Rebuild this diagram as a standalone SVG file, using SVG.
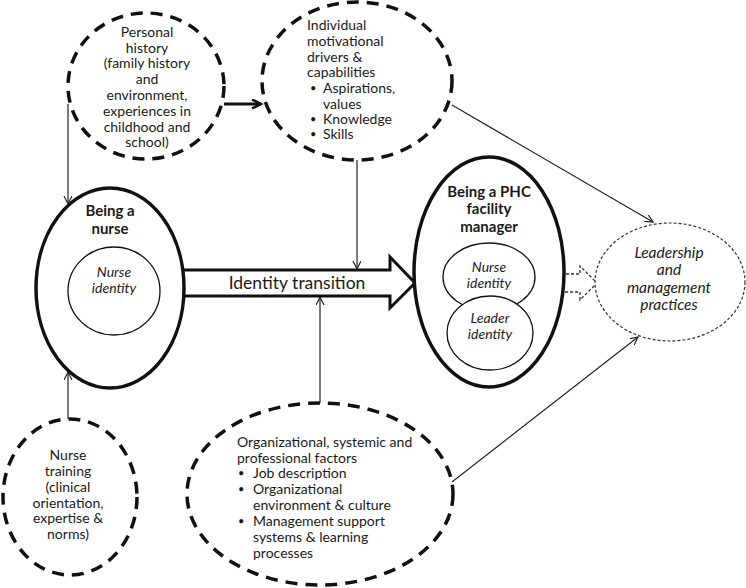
<svg xmlns="http://www.w3.org/2000/svg" width="746" height="588" viewBox="0 0 746 588">
<defs>
<style>
text{font-family:Lato,"Liberation Sans",sans-serif;fill:#1a1a1a;}
.t{font-size:14px;}
.c{text-anchor:middle;}
.b{font-weight:bold;font-size:15px;}
.i{font-style:italic;font-size:14px;}
.li{font-style:italic;font-size:15.5px;}
.big{font-size:17.5px;}
.dot{font-size:11px;}
.thickdash{fill:#fff;stroke:#111;stroke-width:3.5;stroke-dasharray:12 8;}
.solid{fill:#fff;stroke:#111;stroke-width:3.5;}
.inner{fill:#fff;stroke:#111;stroke-width:1.3;}
.thin{fill:none;stroke:#222;stroke-width:1.2;}
.thindash{fill:#fff;stroke:#333;stroke-width:1.2;stroke-dasharray:3 2;}
</style>
<marker id="ah" markerWidth="10" markerHeight="10" refX="8" refY="4" orient="auto" markerUnits="userSpaceOnUse">
<path d="M0,0 L8,4 L0,8" fill="none" stroke="#222" stroke-width="1.2"/>
</marker>
<marker id="ahb" markerWidth="14" markerHeight="14" refX="10" refY="5" orient="auto" markerUnits="userSpaceOnUse">
<path d="M1,0.5 L10,5 L1,9.5" fill="none" stroke="#111" stroke-width="2.5"/>
</marker>
</defs>

<g id="connectors">
<line class="thin" x1="68" y1="104" x2="68" y2="204" marker-end="url(#ah)"/>
<line x1="224" y1="104" x2="261" y2="104" stroke="#111" stroke-width="3" marker-end="url(#ahb)"/>
<line class="thin" x1="357" y1="160" x2="357" y2="269" marker-end="url(#ah)"/>
<line class="thin" x1="452" y1="105" x2="653" y2="222" marker-end="url(#ah)"/>
<line class="thin" x1="68" y1="420" x2="68" y2="372" marker-end="url(#ah)"/>
<line class="thin" x1="320" y1="403" x2="320" y2="297" marker-end="url(#ah)"/>
<line class="thin" x1="452" y1="482" x2="638" y2="337" marker-end="url(#ah)"/>
<polygon id="identity-transition" points="178,270 390,270 390,257 415,283 390,308 390,296 178,296" fill="#fff" stroke="#111" stroke-width="3"/>
<text class="big c" x="297" y="289">Identity transition</text>
<polygon points="556,274 580,274 580,266 597,283 580,300 580,292 556,292" fill="#fff" stroke="#333" stroke-width="1.3" stroke-dasharray="3 2"/>
</g>

<g id="personal-history">
<ellipse class="thickdash" cx="146" cy="86" rx="78" ry="73"/>
<text class="t c" x="147" y="37">Personal</text>
<text class="t c" x="147" y="53">history</text>
<text class="t c" x="147" y="68">(family history</text>
<text class="t c" x="147" y="84">and</text>
<text class="t c" x="147" y="100">environment,</text>
<text class="t c" x="147" y="116">experiences in</text>
<text class="t c" x="147" y="132">childhood and</text>
<text class="t c" x="147" y="147">school)</text>
</g>

<g id="individual-drivers">
<ellipse class="thickdash" cx="357" cy="81" rx="95" ry="79"/>
<text class="t" x="307" y="30">Individual</text>
<text class="t" x="307" y="46">motivational</text>
<text class="t" x="307" y="62">drivers &amp;</text>
<text class="t" x="307" y="77">capabilities</text>
<text class="dot" x="310" y="92">•</text><text class="t" x="323" y="93">Aspirations,</text>
<text class="t" x="323" y="109">values</text>
<text class="dot" x="310" y="123">•</text><text class="t" x="323" y="124">Knowledge</text>
<text class="dot" x="310" y="138">•</text><text class="t" x="323" y="139">Skills</text>
</g>

<g id="being-a-nurse">
<ellipse class="solid" cx="110" cy="288" rx="74" ry="100"/>
<text class="b c" x="110" y="216">Being a</text>
<text class="b c" x="110" y="234">nurse</text>
<ellipse class="inner" cx="114" cy="291" rx="46" ry="44"/>
<text class="i c" x="114" y="277">Nurse</text>
<text class="i c" x="114" y="293">identity</text>
</g>

<g id="phc-manager">
<ellipse class="solid" cx="489" cy="272" rx="75" ry="115"/>
<text class="b c" x="489" y="197">Being a PHC</text>
<text class="b c" x="489" y="214">facility</text>
<text class="b c" x="489" y="232">manager</text>
<ellipse class="inner" cx="489" cy="277" rx="46" ry="34"/>
<text class="i c" x="489" y="272">Nurse</text>
<text class="i c" x="489" y="288">identity</text>
<ellipse class="inner" cx="490" cy="333" rx="43" ry="37"/>
<text class="i c" x="490" y="323">Leader</text>
<text class="i c" x="490" y="339">identity</text>
</g>

<g id="leadership-practices">
<ellipse class="thindash" cx="670" cy="282" rx="75" ry="59"/>
<text class="li c" x="669" y="258">Leadership</text>
<text class="li c" x="669" y="275">and</text>
<text class="li c" x="669" y="293">management</text>
<text class="li c" x="669" y="310">practices</text>
</g>

<g id="nurse-training">
<ellipse class="thickdash" cx="70" cy="497" rx="67" ry="78"/>
<text class="t c" x="68" y="460">Nurse</text>
<text class="t c" x="68" y="476">training</text>
<text class="t c" x="68" y="492">(clinical</text>
<text class="t c" x="68" y="508">orientation,</text>
<text class="t c" x="68" y="523">expertise &amp;</text>
<text class="t c" x="68" y="539">norms)</text>
</g>

<g id="organizational-factors">
<ellipse class="thickdash" cx="320" cy="494" rx="133" ry="91"/>
<text class="t" x="237" y="447">Organizational, systemic and</text>
<text class="t" x="237" y="463">professional factors</text>
<text class="dot" x="238" y="477">•</text><text class="t" x="253" y="478">Job description</text>
<text class="dot" x="238" y="493">•</text><text class="t" x="253" y="494">Organizational</text>
<text class="t" x="253" y="510">environment &amp; culture</text>
<text class="dot" x="238" y="525">•</text><text class="t" x="253" y="526">Management support</text>
<text class="t" x="253" y="542">systems &amp; learning</text>
<text class="t" x="253" y="558">processes</text>
</g>
</svg>
